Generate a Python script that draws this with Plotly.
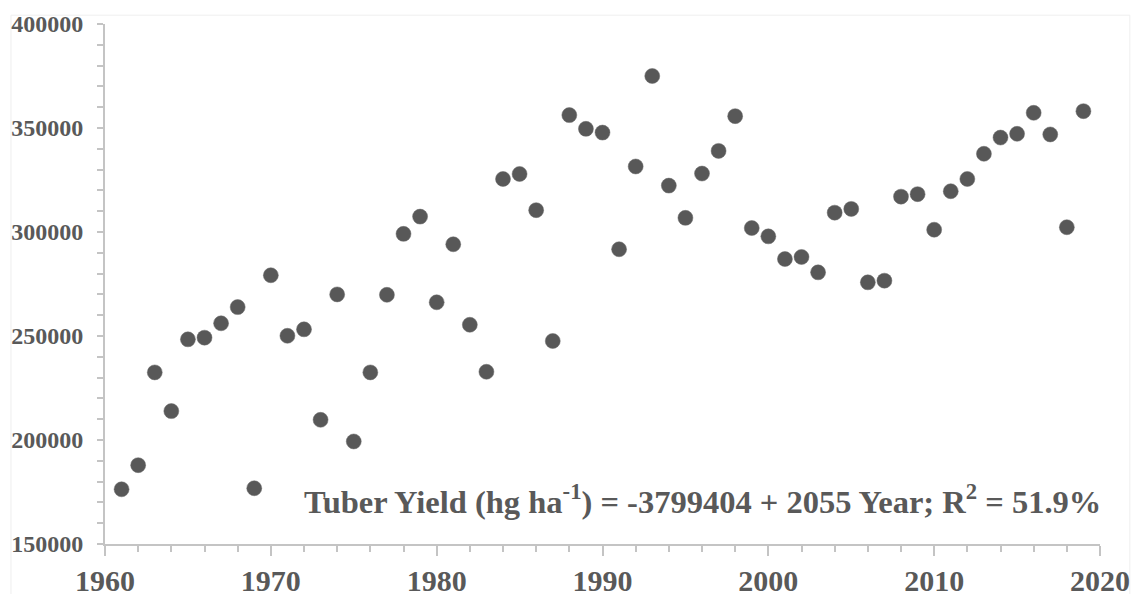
import plotly.graph_objects as go

years = list(range(1961, 2020))
tuber_yield = [
    176300, 187900, 232500, 213900, 248400, 249200, 256100, 263900, 176800, 279200,
    250100, 253200, 209700, 270000, 199300, 232500, 269800, 299100, 307400, 266200,
    294100, 255400, 232800, 325500, 327900, 310500, 247600, 356200, 349600, 347800,
    291700, 331500, 375000, 322300, 306800, 328100, 339000, 355700, 301900, 297900,
    287000, 288000, 280600, 309300, 311100, 275800, 276600, 317000, 318200, 301100,
    319600, 325500, 337600, 345400, 347200, 357300, 346900, 302300, 358100,
]
x_ticks = [1960, 1970, 1980, 1990, 2000, 2010, 2020]
y_ticks = [150000, 200000, 250000, 300000, 350000, 400000]
equation = "Tuber Yield (hg ha<sup>-1</sup>) = -3799404 + 2055 Year; R<sup>2</sup> = 51.9%"

FONT = "Liberation Serif"
TXT = "#595959"
AX = "#c4c4c4"

fig = go.Figure()
fig.add_trace(go.Scatter(
    x=years, y=tuber_yield, mode="markers",
    marker=dict(size=15, color="#585858", line=dict(width=0.5, color="#6a6a6a")),
    showlegend=False,
))

fig.add_annotation(
    x=1.003, y=0.042, xref="paper", yref="paper", xanchor="right", yanchor="bottom",
    text="<b>" + equation + "</b>", showarrow=False,
    font=dict(family=FONT, size=32.5, color=TXT),
)

fig.add_shape(type="rect", xref="paper", yref="paper",
              x0=-0.0945, x1=1.030, y0=-0.3, y1=1.017,
              line=dict(color="#efefef", width=1), layer="below")

fig.update_layout(
    width=1131, height=594,
    margin=dict(l=105, r=31, t=24, b=50),
    paper_bgcolor="white", plot_bgcolor="white",
    font=dict(family=FONT, color=TXT),
    xaxis=dict(
        range=[1960, 2020], tickvals=x_ticks, showgrid=False, zeroline=False,
        showline=True, linecolor=AX, linewidth=2, automargin=False,
        ticks="outside", ticklen=10, tickwidth=2, tickcolor=AX,
        minor=dict(dtick=2, tick0=1960, ticks="outside", ticklen=6, tickwidth=2, tickcolor=AX),
        tickfont=dict(family=FONT, size=30, color=TXT, weight="bold"),
        ticklabelstandoff=-1, ticklabeloverflow="allow",
    ),
    yaxis=dict(
        range=[150000, 400000], tickvals=y_ticks, showgrid=False, zeroline=False,
        showline=True, linecolor=AX, linewidth=2, automargin=False,
        ticks="outside", ticklen=6, tickwidth=2, tickcolor=AX,
        minor=dict(dtick=10000, tick0=150000, ticks="outside", ticklen=6, tickwidth=2, tickcolor=AX),
        tickfont=dict(family=FONT, size=24, color=TXT, weight="bold"),
        tickformat="d", ticklabelstandoff=9, ticklabeloverflow="allow",
    ),
)

fig.write_html(
    "out.html",
    config={"displayModeBar": False},
    post_script="document.body.style.margin='0';document.body.style.overflow='hidden';",
)
